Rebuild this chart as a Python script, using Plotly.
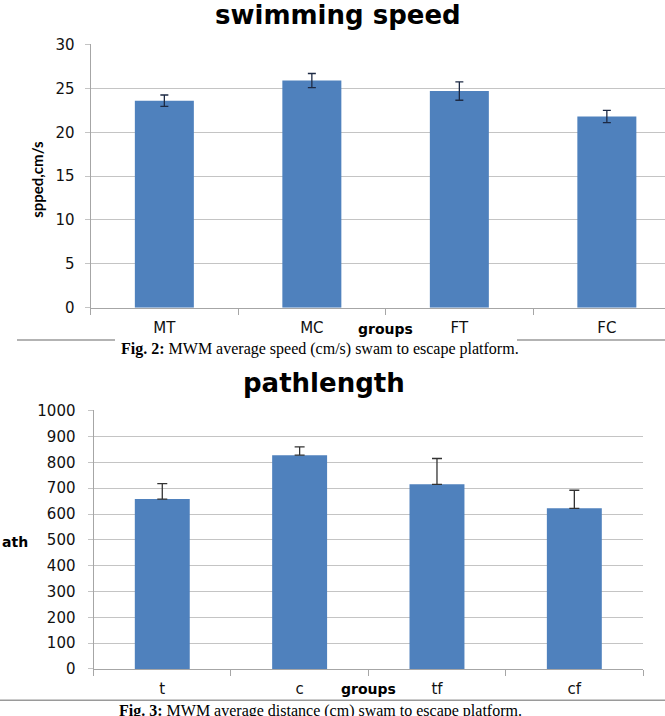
import plotly.graph_objects as go

# ---- data ----
speed_groups = ["MT", "MC", "FT", "FC"]
speed_values = [23.6, 25.9, 24.7, 21.8]
speed_errors = [0.65, 0.8, 1.05, 0.7]

path_groups = ["t", "c", "tf", "cf"]
path_values = [658, 828, 715, 622]
path_errors = [60, 32, 100, 70]

W, H = 665, 716
def py(p):  # pixel y -> paper y
    return 1 - p / H
def px(p):
    return p / W

BAR = "#4F81BD"
GRID = "#c4c4c4"
AXL = "#a6a6a6"
TICKFONT = dict(family="DejaVu Sans", size=15, color="#111111")

fig = go.Figure()
fig.add_trace(go.Bar(
    x=speed_groups, y=speed_values, width=0.4, marker=dict(color=BAR, line=dict(width=0)),
    error_y=dict(type="data", array=speed_errors, color="#1d2a44", thickness=1.3, width=4),
    xaxis="x", yaxis="y"))
fig.add_trace(go.Bar(
    x=path_groups, y=path_values, width=0.4, marker=dict(color=BAR, line=dict(width=0)),
    error_y=dict(type="data", symmetric=False, array=path_errors, arrayminus=[0] * len(path_errors),
                 color="#333333", thickness=1.3, width=5),
    xaxis="x2", yaxis="y2"))

top_left = 90.6
top_step = 147.5
bot_left, bot_right = 93.6, 643.0

fig.update_layout(
    width=W, height=H, margin=dict(l=0, r=0, t=0, b=0),
    paper_bgcolor="white", plot_bgcolor="white", showlegend=False,
    xaxis=dict(domain=[px(top_left), 1.0], type="category",
               range=[-0.5, -0.5 + (W - top_left) / top_step],
               showline=True, linecolor=AXL, linewidth=1.2,
               ticks="outside", tickson="boundaries", ticklen=6, tickcolor=AXL,
               tickfont=TICKFONT, ticklabelstandoff=6, showgrid=False, fixedrange=True),
    yaxis=dict(domain=[py(307), py(37)], range=[0, 30.05], tickvals=[0, 5, 10, 15, 20, 25, 30],
               showline=True, linecolor=AXL, linewidth=1.2, showgrid=True, gridcolor=GRID, gridwidth=1,
               ticks="outside", ticklen=5, tickcolor=GRID, tickfont=TICKFONT,
               ticklabelstandoff=7, zeroline=False),
    xaxis2=dict(domain=[px(bot_left), px(bot_right)], type="category", range=[-0.5, 3.5],
                showline=True, linecolor=AXL, linewidth=1.2,
                ticks="outside", tickson="boundaries", ticklen=6, tickcolor=AXL,
                tickfont=TICKFONT, ticklabelstandoff=6, showgrid=False, anchor="y2"),
    yaxis2=dict(domain=[py(677), py(412)], range=[0, 1002],
                tickvals=[0, 100, 200, 300, 400, 500, 600, 700, 800, 900, 1000],
                showline=True, linecolor=AXL, linewidth=1.2, showgrid=True, gridcolor=GRID, gridwidth=1,
                ticks="outside", ticklen=5, tickcolor=GRID, tickfont=TICKFONT,
                ticklabelstandoff=9, zeroline=False, anchor="x2"),
)

ann = []
# titles
ann.append(dict(text="<b>swimming speed</b>", xref="paper", yref="paper", x=px(337.5), y=py(7),
                xanchor="center", yanchor="middle", showarrow=False,
                font=dict(family="DejaVu Sans", size=26, color="#000")))
ann.append(dict(text="<b>pathlength</b>", xref="paper", yref="paper", x=px(323.5), y=py(384),
                xanchor="center", yanchor="middle", showarrow=False,
                font=dict(family="DejaVu Sans", size=26, color="#000")))
# axis titles
ann.append(dict(text="<b>spped,cm/s</b>", xref="paper", yref="paper", x=px(37), y=py(176),
                xanchor="center", yanchor="middle", textangle=-90, showarrow=False,
                font=dict(family="Lato", size=15, color="#000")))
ann.append(dict(text="<b>ath</b>", xref="paper", yref="paper", x=0, y=py(547),
                xanchor="left", yanchor="middle", showarrow=False,
                font=dict(family="DejaVu Sans", size=14, color="#000")))
ann.append(dict(text="<b>groups</b>", xref="x", yref="paper", x=1.5, y=py(329),
                xanchor="center", yanchor="middle", showarrow=False,
                font=dict(family="DejaVu Sans", size=14, color="#000")))
ann.append(dict(text="<b>groups</b>", xref="x2", yref="paper", x=1.5, y=py(698),
                xanchor="center", yanchor="middle", showarrow=False,
                font=dict(family="DejaVu Sans", size=14, color="#000")))
# captions
ann.append(dict(text="<b>Fig. 2:</b> MWM average speed (cm/s) swam to escape platform.",
                xref="paper", yref="paper", x=px(320), y=py(349), xanchor="center", yanchor="middle",
                showarrow=False, font=dict(family="Liberation Serif", size=16, color="#000")))
ann.append(dict(text="<b>Fig. 3:</b> MWM average distance (cm) swam to escape platform.",
                xref="paper", yref="paper", x=px(320), y=py(709), xanchor="center", yanchor="top",
                showarrow=False, font=dict(family="Liberation Serif", size=16, color="#000")))
fig.update_layout(annotations=ann)

shapes = [
    dict(type="line", xref="paper", yref="paper", x0=px(17), x1=px(115), y0=py(340), y1=py(340),
         line=dict(color="#9a9a9a", width=1.5)),
    dict(type="line", xref="paper", yref="paper", x0=px(517), x1=1, y0=py(340), y1=py(340),
         line=dict(color="#9a9a9a", width=1.5)),
    dict(type="line", xref="paper", yref="paper", x0=0, x1=1, y0=py(709), y1=py(709),
         line=dict(color="#9a9a9a", width=1.5)),
]
fig.update_layout(shapes=shapes)

fig.write_html("out.html")
